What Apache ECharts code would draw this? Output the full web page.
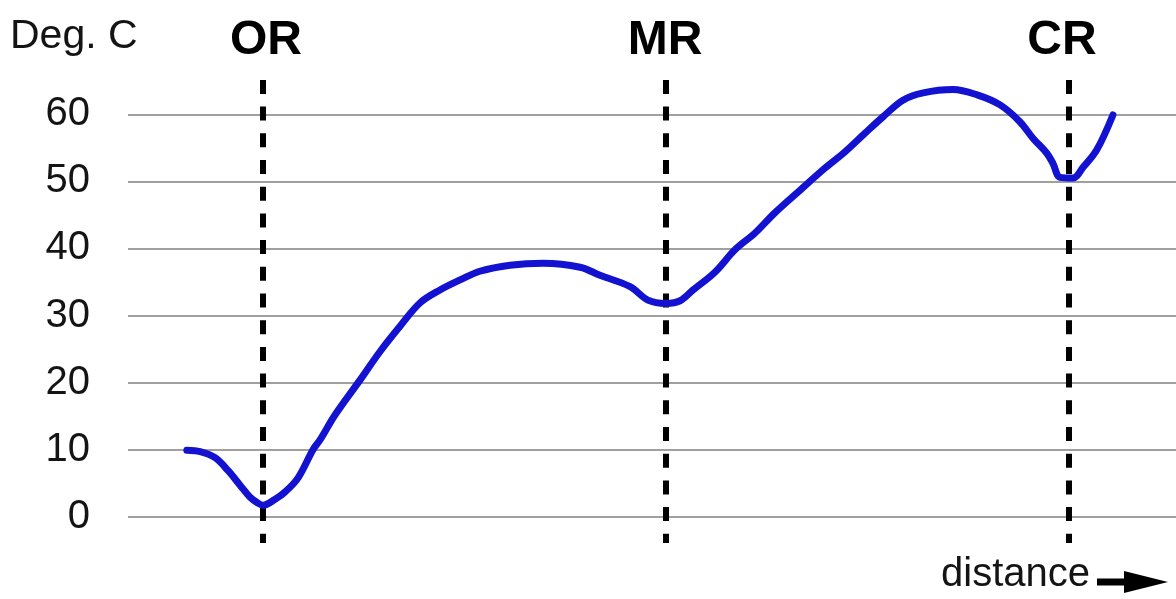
<!DOCTYPE html>
<html>
<head>
<meta charset="utf-8">
<script src="https://cdn.jsdelivr.net/npm/echarts@6/dist/echarts.min.js"></script>
<style>
html,body{margin:0;padding:0;background:#fff;}
#chart{width:1176px;height:599px;}
</style>
</head>
<body>
<div id="chart"></div>
<script>
// Distance (arbitrary units: OR = 0, MR = 100, CR = 200)
const distance = [-18.9,-15.6,-11.9,-8.7,-5.7,-3.2,-1.2,0,3.0,5.5,8.7,12.4,14.1,17.9,24.1,29.0,34.0,39.0,43.9,48.9,53.8,61.3,69.5,78.7,83.6,91.1,95.5,100,103.5,106.7,112.2,117.1,122.1,127.0,133.3,139.5,144.4,149.4,153.8,158.8,163.8,171.2,177.2,182.9,187.8,191.1,194.5,196.0,197.8,201.0,203.5,206.9,210.9];
// Temperature (Deg. C)
const temperature = [9.9,9.7,8.8,6.9,4.7,2.9,2.0,1.7,2.6,3.7,5.8,10.0,11.4,15.2,20.4,24.6,28.4,31.9,33.8,35.3,36.6,37.5,37.8,37.2,36.0,34.3,32.3,31.8,32.2,33.8,36.5,39.8,42.3,45.3,48.7,52.0,54.4,57.2,59.6,62.1,63.2,63.7,62.9,61.4,58.9,56.4,54.2,52.7,50.6,50.5,52.1,54.7,59.9];
// Reference positions
const markerNames = ['OR','MR','CR'];
const markerPos = [0, 100, 200];
const markerLabelOffset = [3, -1, -7];
const yTicks = [0,10,20,30,40,50,60];

const chart = echarts.init(document.getElementById('chart'), null, {renderer:'canvas'});

const curveData = distance.map((d,i)=>[d, temperature[i]]);

const markerSeries = markerNames.map((name,i)=>({
  type:'line',
  name:name,
  clip:false,
  silent:true,
  symbol:'circle',
  symbolSize:1,
  showSymbol:true,
  itemStyle:{color:'rgba(0,0,0,0)'},
  z:3,
  lineStyle:{color:'#000', width:6, type:[14,12.7]},
  label:{show:false},
  data:[
    {value:[markerPos[i], 65.13], label:{show:true, position:'top', distance:15, offset:[markerLabelOffset[i],0], formatter:name, fontSize:48, fontWeight:'bold', color:'#000', fontFamily:'Liberation Sans, Arial, sans-serif'}},
    {value:[markerPos[i], -3.92]}
  ]
}));

chart.setOption({
  animation:false,
  backgroundColor:'#fff',
  grid:{left:128, right:0, top:114.3, bottom:82.3, containLabel:false},
  xAxis:{
    type:'value', min:-33.5, max:226.55,
    axisLine:{show:false}, axisTick:{show:false}, axisLabel:{show:false}, splitLine:{show:false}
  },
  yAxis:{
    type:'value', min:yTicks[0], max:yTicks[yTicks.length-1], interval:10,
    axisLine:{show:false}, axisTick:{show:false},
    axisLabel:{fontSize:40, color:'#141414', margin:38, fontFamily:'Liberation Sans, Arial, sans-serif'},
    splitLine:{show:true, lineStyle:{color:'#808080', width:1.5}}
  },
  graphic:[
    {type:'text', left:10, top:16, style:{text:'Deg. C', fontSize:41, fill:'#141414', fontFamily:'Liberation Sans, Arial, sans-serif'}},
    {type:'text', right:86, top:555, style:{text:'distance', fontSize:40, fill:'#141414', fontFamily:'Liberation Sans, Arial, sans-serif'}},
    {type:'polygon', shape:{points:[[1097,578.5],[1124,578.5],[1124,571],[1168,582],[1124,593],[1124,585.5],[1097,585.5]]}, style:{fill:'#000'}}
  ],
  series:[
    {
      type:'line', name:'Temperature', data:curveData, clip:false, smooth:0.35,
      symbol:'none', z:4,
      lineStyle:{color:'#1212d0', width:7, cap:'round', join:'round'}
    }
  ].concat(markerSeries)
});
</script>
</body>
</html>
